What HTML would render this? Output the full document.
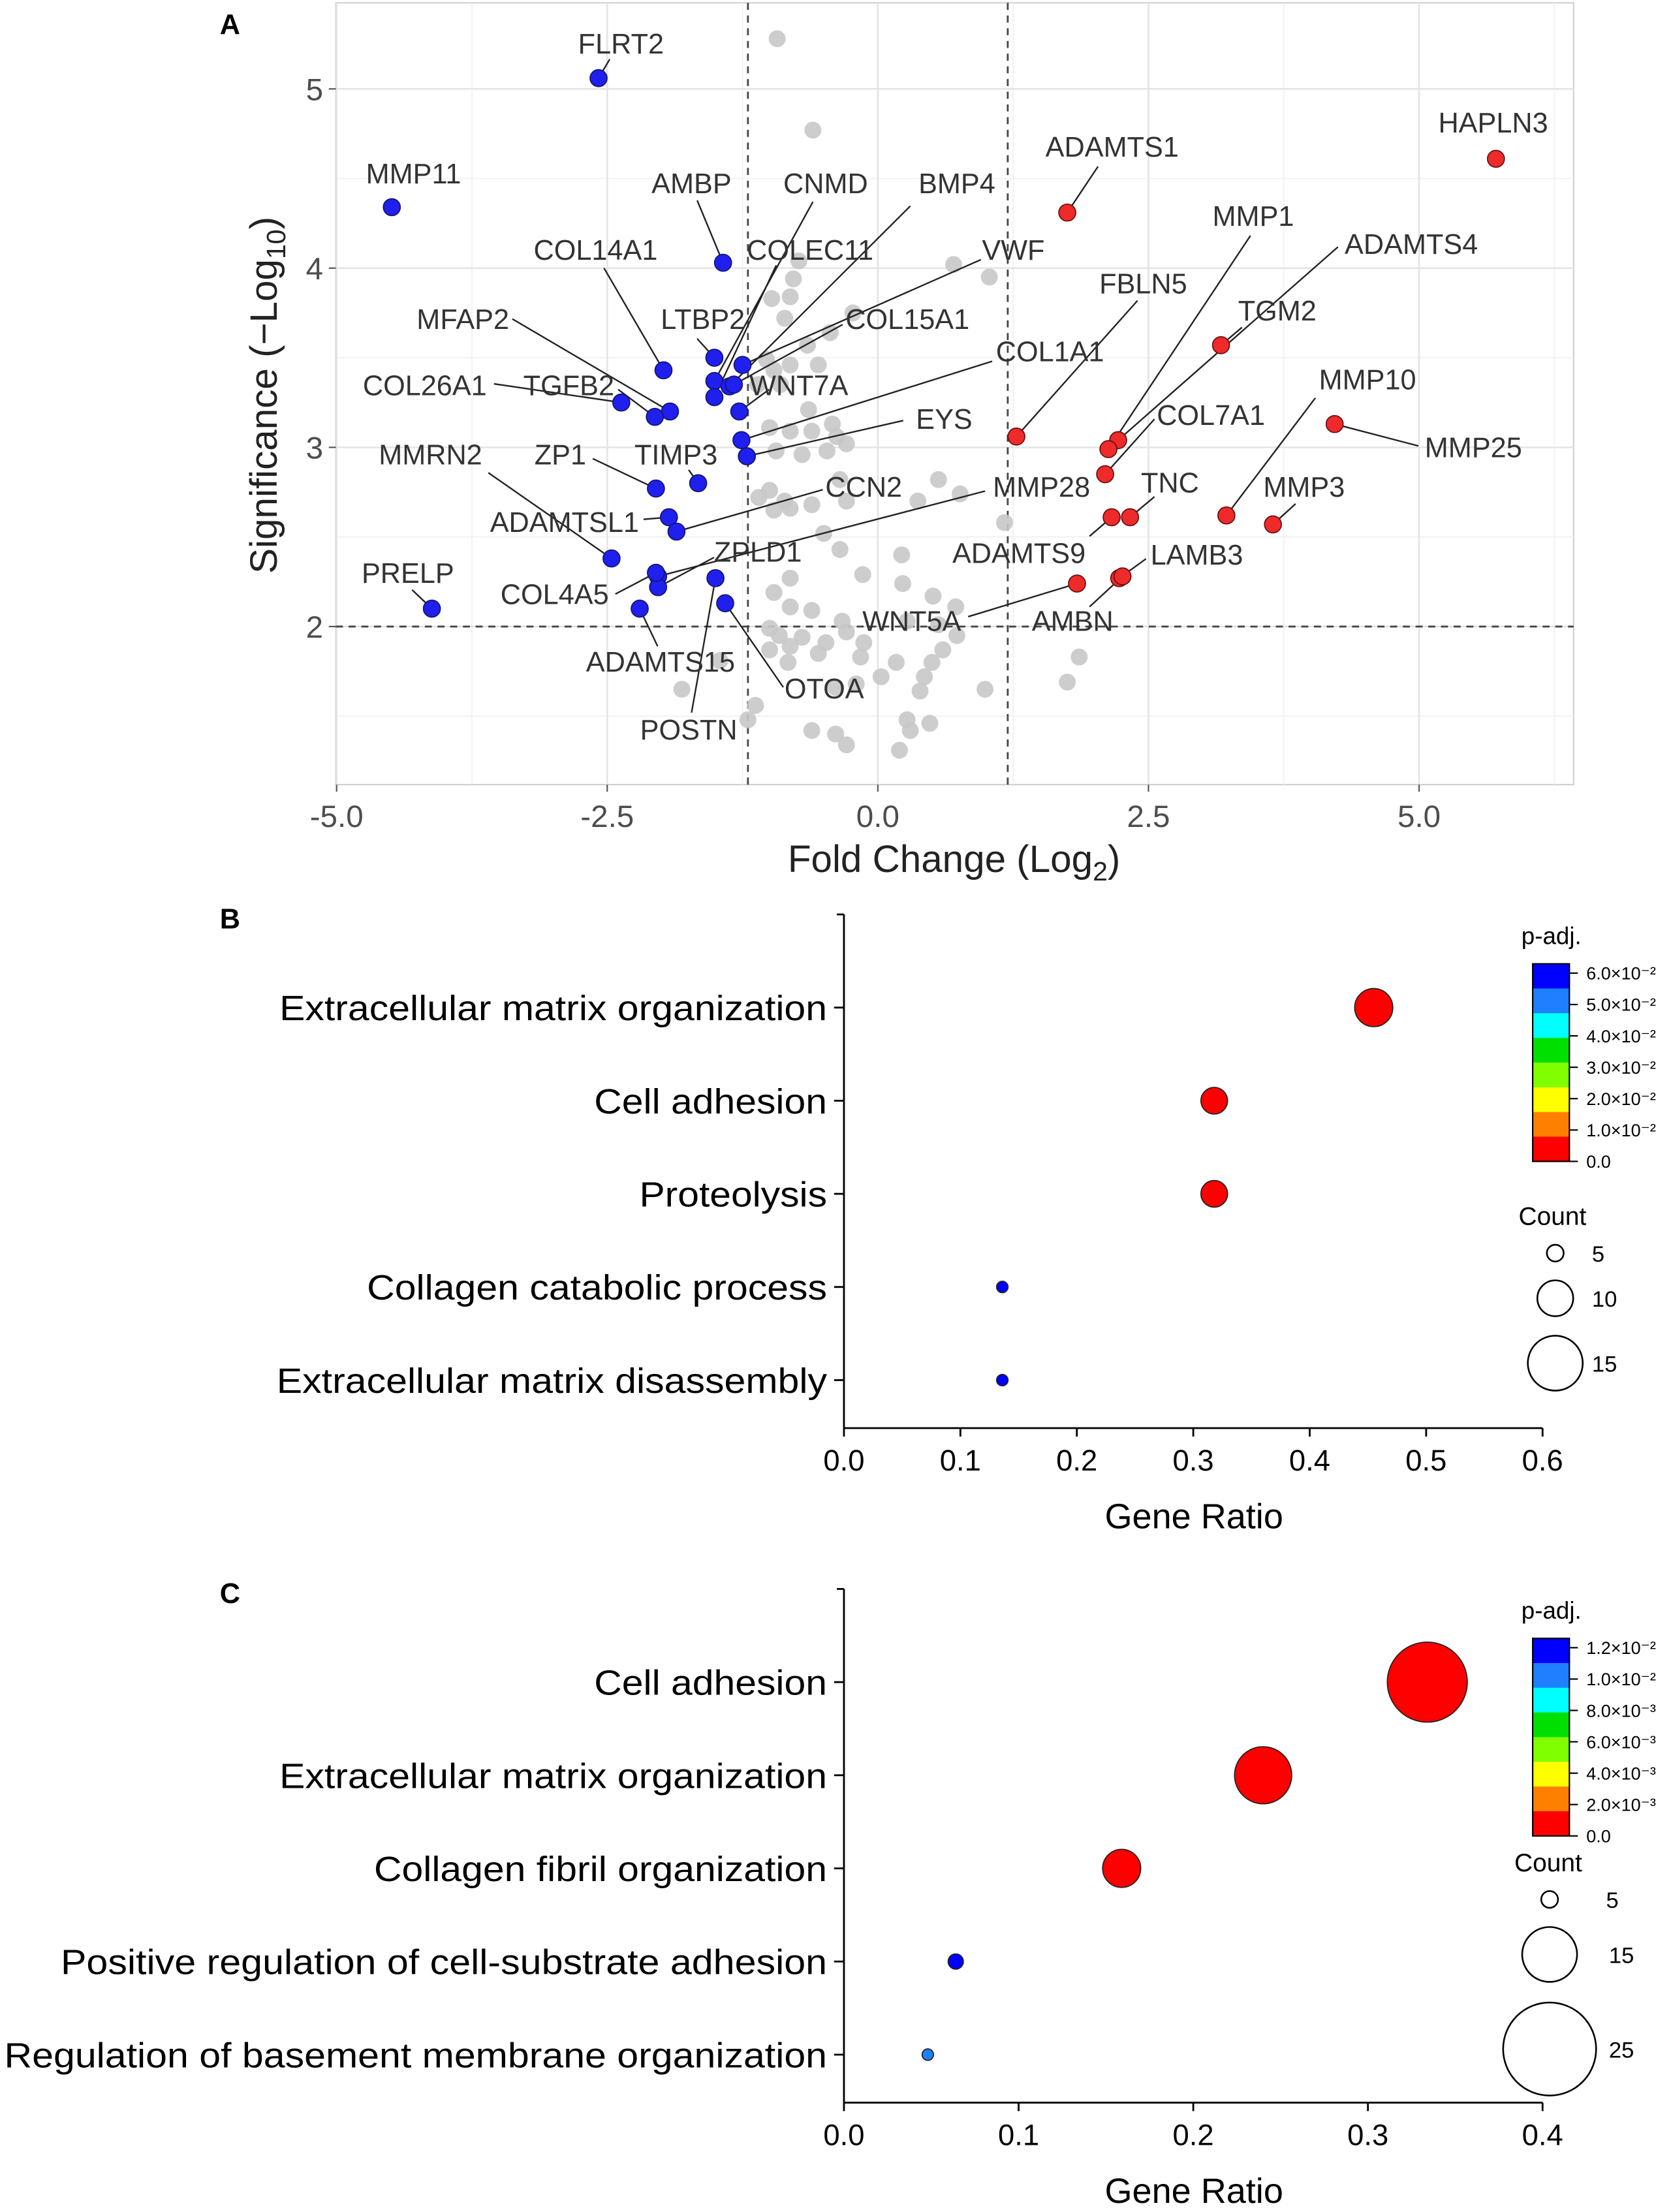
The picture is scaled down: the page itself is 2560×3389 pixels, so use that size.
<!DOCTYPE html>
<html><head><meta charset="utf-8"><style>
html,body{margin:0;padding:0;background:#fff}
svg{display:block;font-family:"Liberation Sans",Arial,sans-serif}
</style></head><body>
<svg id="fig" width="2560" height="3389" viewBox="0 0 1184 1567.5" preserveAspectRatio="none" xmlns="http://www.w3.org/2000/svg">
<g id="pa"></g>
<g id="pb"></g>
<g id="pc"></g>
</svg>
<script>
// ---------- Panel A data ----------
const grayX=[-0.93,-0.60,-0.73,-0.78,-0.98,-0.86,-0.81,0.70,1.03,-0.23,-0.44,-0.65,-1.03,-0.81,-0.55,-0.96,-0.90,-1.11,-0.64,-0.42,-1.00,-0.81,-0.61,-0.38,-0.29,-0.94,-0.70,-0.47,-1.00,-1.10,-0.86,-0.96,-0.81,-0.61,-0.29,-0.35,0.76,0.37,0.56,1.17,-0.50,-0.35,0.22,-0.14,-0.81,-0.96,0.23,0.51,0.72,-0.81,-0.61,-0.33,-1.00,-0.91,-0.70,-0.48,-0.29,-0.13,0.27,0.56,0.73,-1.00,-0.81,-0.55,-0.16,-0.83,0.60,0.50,0.43,0.39,0.03,-0.20,0.17,-0.39,-1.46,-1.13,-1.81,1.86,1.75,0.99,0.27,0.48,0.30,-0.61,-0.39,-0.29,0.20,-1.20];
const grayY=[5.28,4.77,4.04,3.94,3.83,3.72,3.84,4.02,3.95,3.75,3.64,3.57,3.49,3.46,3.46,3.43,3.35,3.35,3.21,3.13,3.11,3.09,3.09,3.06,3.02,2.98,2.96,2.98,2.76,2.72,2.70,2.65,2.66,2.68,2.70,2.82,2.74,2.70,2.82,2.58,2.52,2.43,2.40,2.29,2.27,2.19,2.24,2.17,2.11,2.11,2.09,2.03,1.99,1.95,1.94,1.91,1.97,1.91,2.03,2.01,1.95,1.87,1.89,1.85,1.83,1.80,1.87,1.80,1.72,1.64,1.72,1.68,1.80,1.66,1.81,1.56,1.65,1.83,1.69,1.65,1.48,1.46,1.42,1.42,1.40,1.34,1.31,1.48];
const geneNames=["FLRT2","MMP11","AMBP","LTBP2","CNMD","COLEC11","BMP4","VWF","COL15A1","WNT7A","COL1A1","EYS","COL14A1","MFAP2","TGFB2","COL26A1","ZP1","TIMP3","MMRN2","ADAMTSL1","CCN2","MMP28","ZPLD1","COL4A5","ADAMTS15","OTOA","POSTN","PRELP",
"ADAMTS1","HAPLN3","TGM2","MMP25","FBLN5","ADAMTS4","MMP1","COL7A1","ADAMTS9","TNC","MMP10","MMP3","WNT5A","LAMB3","AMBN"];
const geneX=[-2.58,-4.49,-1.43,-1.51,-1.51,-1.51,-1.37,-1.25,-1.33,-1.28,-1.26,-1.21,-1.98,-1.92,-2.06,-2.37,-2.05,-1.66,-2.46,-1.93,-1.86,-2.03,-2.03,-2.05,-2.20,-1.41,-1.50,-4.12,
1.75,5.71,3.17,4.22,1.28,2.22,2.13,2.10,2.16,2.33,3.22,3.65,1.84,2.23,2.26];
const geneY=[5.06,4.34,4.03,3.50,3.37,3.28,3.34,3.46,3.35,3.20,3.04,2.95,3.43,3.20,3.17,3.25,2.77,2.80,2.38,2.61,2.53,2.28,2.22,2.30,2.10,2.13,2.27,2.10,
4.31,4.61,3.57,3.13,3.06,3.04,2.99,2.85,2.61,2.61,2.62,2.57,2.24,2.27,2.28];
const geneDir=["down","down","down","down","down","down","down","down","down","down","down","down","down","down","down","down","down","down","down","down","down","down","down","down","down","down","down","down",
"up","up","up","up","up","up","up","up","up","up","up","up","up","up","up"];
const xTicks=[-5.0,-2.5,0.0,2.5,5.0];
const xTickLabels=["-5.0","-2.5","0.0","2.5","5.0"];
const yTicks=[2,3,4,5];
const fcCut=1.2, sigCut=2;
const labelPos=[[440,31],[293,123],[490,130],[498,226],[585,130],[574,177],[678,130],[718,177],[643,226],[566,273],[744,249],[669,297],[422,177],[328,226],[403,273],[301,273],[397,322],[479,322],[305,322],[400,370],[612,345],[738,345],[537,391],[393,421],[468,469],[584,488],[488,517],[289,406],
[788,104],[1058,87],[905,220],[1044,317],[810,201],[1000,173],[888,153],[858,294],[722,392],[829,342],[969,269],[924,345],[646,440],[848,393],[760,440]];
const lineEnd=[[432,42],null,[494,142],[494,240],[576,143],[550,188],[645,146],[695,184],[597,230],[545,276],[703,256],[640,298],[428,190],[363,226],[438,276],[350,272],[420,325],[488,333],[346,335],[456,368],[583,347],[698,348],[506,395],[436,421],[466,458],[555,487],[490,505],[292,418],
[778,118],null,[880,232],[1005,316],[806,213],[948,175],[886,167],[818,297],[772,380],[818,352],[932,282],[918,357],[686,437],[812,396],[772,430]];

// ---------- Panel B/C data ----------
const bTerms=["Extracellular matrix organization","Cell adhesion","Proteolysis","Collagen catabolic process","Extracellular matrix disassembly"];
const bRatio=[0.455,0.318,0.318,0.136,0.136];
const bCount=[10,7,7,3,3];
const bPadj=[0.0005,0.0008,0.0008,0.062,0.062];
const bXTicks=[0.0,0.1,0.2,0.3,0.4,0.5,0.6];
const bCbTicks=["6.0×10⁻²","5.0×10⁻²","4.0×10⁻²","3.0×10⁻²","2.0×10⁻²","1.0×10⁻²","0.0"];
const bLegCounts=[5,10,15];
const cTerms=["Cell adhesion","Extracellular matrix organization","Collagen fibril organization","Positive regulation of cell-substrate adhesion","Regulation of basement membrane organization"];
const cRatio=[0.334,0.24,0.159,0.064,0.048];
const cCount=[21,15,10,4,3];
const cPadj=[0.00005,0.0001,0.0003,0.0124,0.0105];
const cXTicks=[0.0,0.1,0.2,0.3,0.4];
const cCbTicks=["1.2×10⁻²","1.0×10⁻²","8.0×10⁻³","6.0×10⁻³","4.0×10⁻³","2.0×10⁻³","0.0"];
const cLegCounts=[5,15,25];

const NS="http://www.w3.org/2000/svg";
function mk(parent,tag,attrs,text){const e=document.createElementNS(NS,tag);for(const k in attrs)e.setAttribute(k,attrs[k]);if(text!==undefined)e.textContent=text;parent.appendChild(e);return e;}

// ---------- Panel A ----------
(function(){
const g=document.getElementById('pa');
const L=238,R=1115,T=2,B=556;
const sx=v=>622+v*76.7, sy=v=>444-(v-2)*127;
const bg=mk(g,'rect',{x:L,y:T,width:R-L,height:B-T,fill:'#fff',stroke:'#d0d0d0','stroke-width':1});

for(let v=-3.75;v<6.5;v+=2.5){const l=mk(g,'line',{x1:sx(v),x2:sx(v),y1:T,y2:B,stroke:'#f0f0f0','stroke-width':0.8});}
for(let v=1.5;v<5.5;v+=1){const l=mk(g,'line',{x1:L,x2:R,y1:sy(v),y2:sy(v),stroke:'#f0f0f0','stroke-width':0.8});}
xTicks.forEach((v,i)=>{const l=mk(g,'line',{x1:sx(v),x2:sx(v),y1:T,y2:B,stroke:'#e4e4e4','stroke-width':1.2});
 const t=mk(g,'text',{x:sx(v),y:586,'text-anchor':'middle','font-size':22,fill:'#4d4d4d'},xTickLabels[i]);
 const tk=mk(g,'line',{x1:sx(v),x2:sx(v),y1:B,y2:B+5,stroke:'#555'});});
yTicks.forEach(v=>{const l=mk(g,'line',{x1:L,x2:R,y1:sy(v),y2:sy(v),stroke:'#e4e4e4','stroke-width':1.2});
 const t=mk(g,'text',{x:229,y:sy(v)+8,'text-anchor':'end','font-size':22,fill:'#4d4d4d'},String(v));
 const tk=mk(g,'line',{x1:L-5,x2:L,y1:sy(v),y2:sy(v),stroke:'#555'});});
[-fcCut,fcCut].forEach(v=>{const l=mk(g,'line',{x1:sx(v),x2:sx(v),y1:T,y2:B,stroke:'#444','stroke-width':1.3,'stroke-dasharray':'5,4'});});
const hl=mk(g,'line',{x1:L,x2:R,y1:sy(sigCut),y2:sy(sigCut),stroke:'#444','stroke-width':1.3,'stroke-dasharray':'5,4'});
grayX.forEach((v,i)=>{const c=mk(g,'circle',{cx:sx(v),cy:sy(grayY[i]),r:6,fill:'#c8c8c8','fill-opacity':0.9});});
geneNames.forEach((n,i)=>{if(!lineEnd[i])return;const l=mk(g,'line',{x1:sx(geneX[i]),y1:sy(geneY[i]),x2:lineEnd[i][0],y2:lineEnd[i][1],stroke:'#222','stroke-width':1.1});});
geneNames.forEach((n,i)=>{const up=geneDir[i]==='up';const c=mk(g,'circle',{cx:sx(geneX[i]),cy:sy(geneY[i]),r:6,fill:up?'#ee2a2a':'#2020ee',stroke:up?'#6a1010':'#141470','stroke-width':0.8});});
geneNames.forEach((n,i)=>{const t=mk(g,'text',{x:labelPos[i][0],y:labelPos[i][1]+7,'text-anchor':'middle','font-size':20,fill:'#333'},n);});
const xt=mk(g,'text',{x:676,y:618,'text-anchor':'middle','font-size':27,fill:'#222'});
xt.innerHTML='Fold Change (Log<tspan font-size="19" dy="6">2</tspan><tspan dy="-6">)</tspan>';
const yt=mk(g,'text',{x:0,y:0,'text-anchor':'middle','font-size':27,fill:'#222',transform:'translate(196,280) rotate(-90)'});
yt.innerHTML='Significance (−Log<tspan font-size="19" dy="6">10</tspan><tspan dy="-6">)</tspan>';
const pl=mk(g,'text',{x:163,y:24,'text-anchor':'middle','font-size':20,'font-weight':'bold'},'A');
})();

// ---------- Panels B & C ----------
const cbColors=['#0000ff','#1e80ff','#00ffff','#00e000','#80ff00','#ffff00','#ff8000','#ff0000'];
function dot(g,opts){
 const {top,xmax,terms,ratio,count,padj,ticks,cb,legCounts,legY,padjMax,letter,widths,legLabelX}=opts;
 const X0=598,X1=1093,axY=top+364;
 const sx=v=>X0+v/xmax*(X1-X0);
 const sy=i=>top+66+i*66;
 const rad=c=>1.35*c;
 const pl=mk(g,'text',{x:163,y:top+10,'text-anchor':'middle','font-size':20,'font-weight':'bold'},letter);
 const ya=mk(g,'line',{x1:X0,x2:X0,y1:top,y2:axY,stroke:'#000','stroke-width':1.3});
 const xa=mk(g,'line',{x1:X0,x2:X1,y1:axY,y2:axY,stroke:'#000','stroke-width':1.3});
 const t0=mk(g,'line',{x1:X0-5,x2:X0,y1:top,y2:top,stroke:'#000','stroke-width':1.3});
 ticks.forEach(v=>{const tk=mk(g,'line',{x1:sx(v),x2:sx(v),y1:axY,y2:axY+6,stroke:'#000','stroke-width':1.3});
  const t=mk(g,'text',{x:sx(v),y:axY+30,'text-anchor':'middle','font-size':21,fill:'#000'},v.toFixed(1));});
 const xt=mk(g,'text',{x:846,y:axY+71,'text-anchor':'middle','font-size':25,fill:'#000'},'Gene Ratio');
 terms.forEach((n,i)=>{const tk=mk(g,'line',{x1:X0-7,x2:X0,y1:sy(i),y2:sy(i),stroke:'#000','stroke-width':1.3});
  const t=mk(g,'text',{x:586,y:sy(i)+9,'text-anchor':'end','font-size':25,fill:'#000',textLength:widths[i],lengthAdjust:'spacingAndGlyphs'},n);});
 terms.forEach((n,i)=>{let k=Math.min(7,Math.floor(padj[i]/padjMax*7));if(padj[i]>padjMax*0.96)k=7;const col=cbColors[7-k];
  const c=mk(g,'circle',{cx:sx(ratio[i]),cy:sy(i),r:rad(count[i]),fill:col,stroke:'#222','stroke-width':0.8});});
 // colorbar: 8 equal bands, 7 ticks from bottom
 const cbT=top+35,H=140,bh=H/8;
 const ptl=mk(g,'text',{x:1078,y:top+21,'font-size':17,fill:'#000'},'p-adj.');
 for(let k=0;k<8;k++){const r=mk(g,'rect',{x:1086,y:cbT+k*bh,width:26,height:bh+0.3,fill:cbColors[k]});
  }
 const fr=mk(g,'rect',{x:1086,y:cbT,width:26,height:H,fill:'none',stroke:'#000','stroke-width':1});
 const step=(H-6.6)/6;
 cb.forEach((s,k)=>{const y=cbT+H-(6-k)*step;const tk=mk(g,'line',{x1:1112,x2:1118,y1:y,y2:y,stroke:'#000'});
  const t=mk(g,'text',{x:1124,y:y+4.5,'font-size':12.5,fill:'#000'},s);});
 const ct=mk(g,'text',{x:opts.countX,y:opts.countY,'font-size':18,fill:'#000'},'Count');
 legCounts.forEach((c,k)=>{const r=rad(c)-0.8;const cc=mk(g,'circle',{cx:opts.legCX,cy:legY[k],r:r,fill:'none',stroke:'#000','stroke-width':1.2});
  const t=mk(g,'text',{x:legLabelX[k],y:legY[k]+6,'font-size':16,fill:'#000'},String(c));});
}
dot(document.getElementById('pb'),{top:648,xmax:0.6,terms:bTerms,ratio:bRatio,count:bCount,padj:bPadj,ticks:bXTicks,cb:bCbTicks,legCounts:bLegCounts,legY:[888,920,966],padjMax:0.06,letter:'B',widths:[388,165,133,326,390],legLabelX:[1128,1128,1128],legCX:1102,countX:1076,countY:868});
dot(document.getElementById('pc'),{top:1126,xmax:0.4,terms:cTerms,ratio:cRatio,count:cCount,padj:cPadj,ticks:cXTicks,cb:cCbTicks,legCounts:cLegCounts,legY:[1346,1385,1452],padjMax:0.012,letter:'C',widths:[165,388,321,543,583],legLabelX:[1138,1140,1140],legCX:1098,countX:1073,countY:1326});
</script>
</body></html>
